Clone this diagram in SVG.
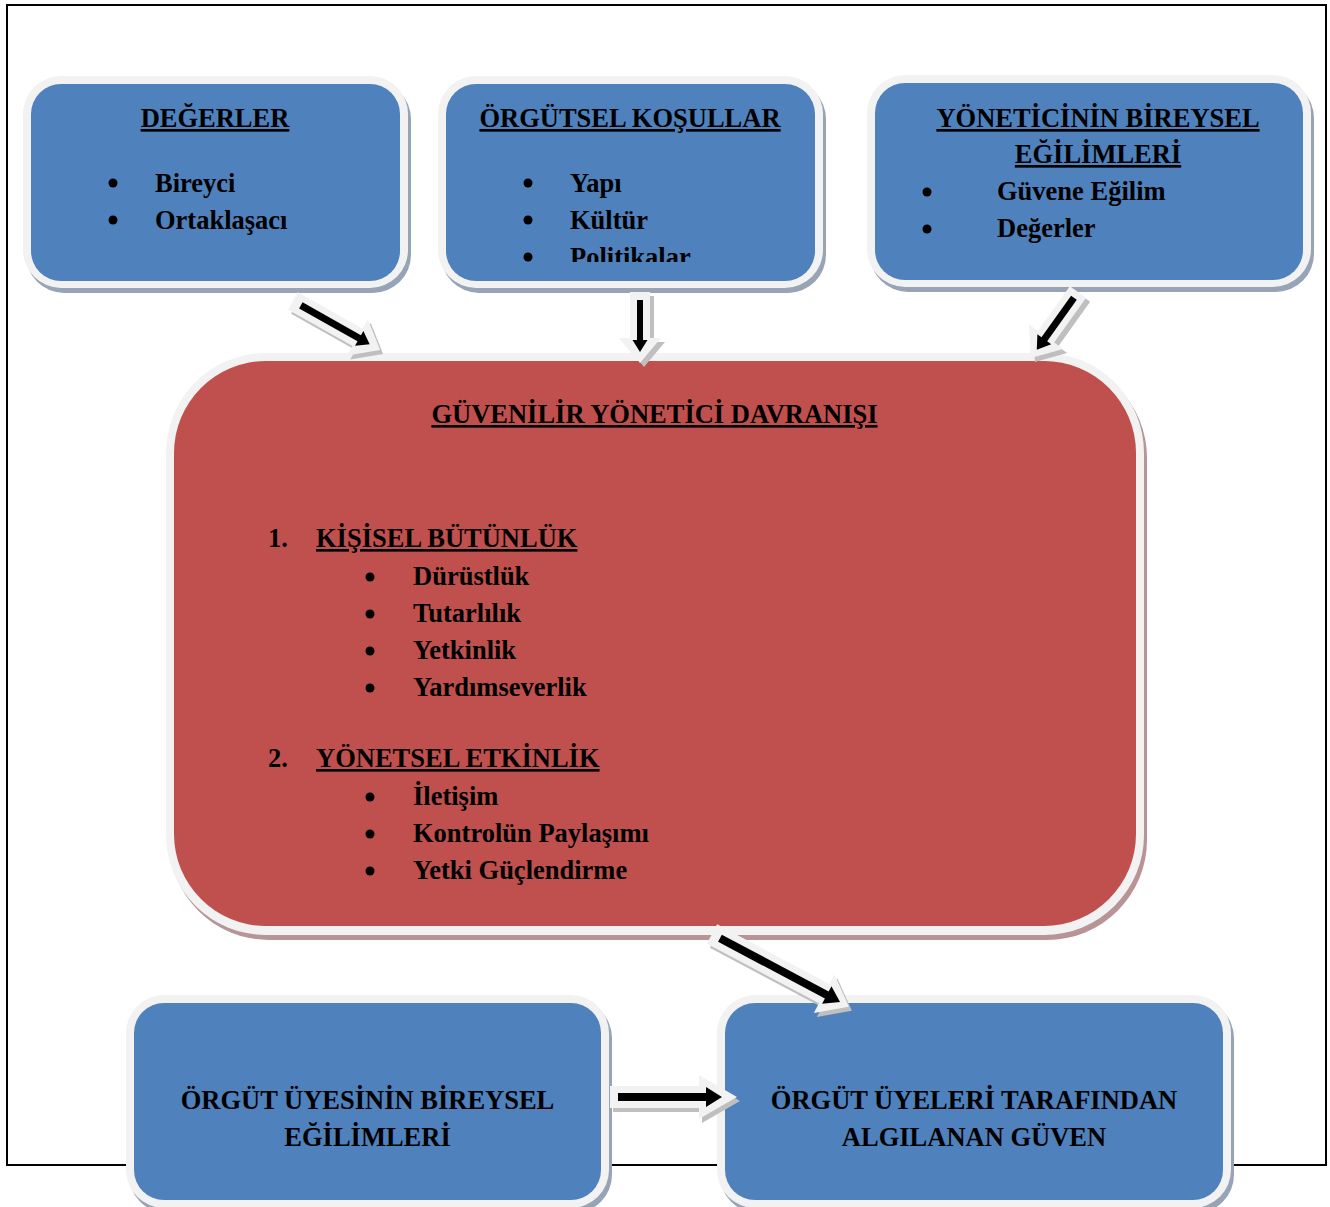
<svg xmlns="http://www.w3.org/2000/svg" width="1330" height="1207" viewBox="0 0 1330 1207">
<defs>
<style>
.frame{fill:none;stroke:#000;stroke-width:2}
.outer{fill:#f2f2f2}
.shb{fill:#97a4b6}
.shr{fill:#b89496}
.blue{fill:#4f81bd}
.red{fill:#c0504d}
.t{font-family:"Liberation Serif","Times New Roman",serif;font-weight:bold;font-size:26.5px;fill:#000}
.c{text-anchor:middle}
.u{text-decoration:underline}
.bw{fill:#f2f2f2}
.bs{fill:#bfbfbf}
.bk{fill:#000}
</style>
<clipPath id="clip2"><rect x="446" y="84" width="369" height="178"/></clipPath>
</defs>
<rect width="1330" height="1207" fill="#fff"/>
<rect class="frame" x="7" y="5" width="1319" height="1160"/>

<g id="node-degerler">
  <rect class="shb" x="26" y="81" width="385" height="212" rx="38"/>
  <rect class="outer" x="23" y="76" width="385" height="212" rx="38"/>
  <rect class="blue" x="31" y="84" width="369" height="197" rx="30"/>
  <text class="t c u" x="215" y="127">DEĞERLER</text>
  <circle cx="113" cy="183" r="4.5"/><text class="t" x="155" y="192">Bireyci</text>
  <circle cx="113" cy="220" r="4.5"/><text class="t" x="155" y="229">Ortaklaşacı</text>
</g>

<g id="node-orgutsel-kosullar">
  <rect class="shb" x="441" y="81" width="385" height="212" rx="38"/>
  <rect class="outer" x="438" y="76" width="385" height="212" rx="38"/>
  <rect class="blue" x="446" y="84" width="369" height="197" rx="30"/>
  <text class="t c u" x="630" y="127">ÖRGÜTSEL KOŞULLAR</text>
  <circle cx="528" cy="183" r="4.5"/><text class="t" x="570" y="192">Yapı</text>
  <circle cx="528" cy="220" r="4.5"/><text class="t" x="570" y="229">Kültür</text>
  <g clip-path="url(#clip2)"><circle cx="528" cy="257" r="4.5"/><text class="t" x="570" y="266">Politikalar</text></g>
</g>

<g id="node-yoneticinin-egilimleri">
  <rect class="shb" x="870" y="80" width="444" height="212" rx="38"/>
  <rect class="outer" x="867" y="75" width="444" height="212" rx="38"/>
  <rect class="blue" x="875" y="83" width="428" height="197" rx="30"/>
  <text class="t c u" x="1098" y="127">YÖNETİCİNİN BİREYSEL</text>
  <text class="t c u" x="1098" y="163">EĞİLİMLERİ</text>
  <circle cx="927" cy="192" r="4.5"/><text class="t" x="997" y="200">Güvene Eğilim</text>
  <circle cx="927" cy="229" r="4.5"/><text class="t" x="997" y="237">Değerler</text>
</g>

<g id="node-guvenilir-davranis">
  <rect class="shr" x="169" y="358" width="978" height="582" rx="100"/>
  <rect class="outer" x="166" y="353" width="978" height="582" rx="100"/>
  <rect class="red" x="174" y="361" width="962" height="565" rx="92"/>
  <text class="t c u" x="654.5" y="423">GÜVENİLİR YÖNETİCİ DAVRANIŞI</text>
  <text class="t" x="268" y="547">1.</text>
  <text class="t u" x="316" y="547">KİŞİSEL BÜTÜNLÜK</text>
  <circle cx="370" cy="577" r="4.5"/><text class="t" x="413" y="585">Dürüstlük</text>
  <circle cx="370" cy="614" r="4.5"/><text class="t" x="413" y="622">Tutarlılık</text>
  <circle cx="370" cy="651" r="4.5"/><text class="t" x="413" y="659">Yetkinlik</text>
  <circle cx="370" cy="688" r="4.5"/><text class="t" x="413" y="696">Yardımseverlik</text>
  <text class="t" x="268" y="767">2.</text>
  <text class="t u" x="316" y="767">YÖNETSEL ETKİNLİK</text>
  <circle cx="370" cy="797" r="4.5"/><text class="t" x="413" y="805">İletişim</text>
  <circle cx="370" cy="834" r="4.5"/><text class="t" x="413" y="842">Kontrolün Paylaşımı</text>
  <circle cx="370" cy="871" r="4.5"/><text class="t" x="413" y="879">Yetki Güçlendirme</text>
</g>

<g id="node-uye-egilimleri">
  <rect class="shb" x="129" y="1000" width="483" height="213" rx="38"/>
  <rect class="outer" x="126" y="995" width="483" height="213" rx="38"/>
  <rect class="blue" x="134" y="1003" width="467" height="197" rx="30"/>
  <text class="t c" x="367.5" y="1109">ÖRGÜT ÜYESİNİN BİREYSEL</text>
  <text class="t c" x="367.5" y="1146">EĞİLİMLERİ</text>
</g>

<g id="node-algilanan-guven">
  <rect class="shb" x="720" y="1000" width="514" height="213" rx="38"/>
  <rect class="outer" x="717" y="995" width="514" height="213" rx="38"/>
  <rect class="blue" x="725" y="1003" width="498" height="197" rx="30"/>
  <text class="t c" x="974" y="1109">ÖRGÜT ÜYELERİ TARAFINDAN</text>
  <text class="t c" x="974" y="1146">ALGILANAN GÜVEN</text>
</g>

<g id="connectors">
  <g transform="translate(296,305) rotate(29.4)"><polygon class="bs" points="0,-10 74,-10 74,-21 100,0 74,21 74,10 0,10"/></g>
  <g transform="translate(293,301) rotate(29.4)"><polygon class="bw" points="0,-10 74,-10 74,-21 100,0 74,21 74,10 0,10"/>
    <polygon class="bk" points="9,-3.5 76,-3.5 76,-8.5 88,0 76,8.5 76,3.5 9,3.5"/></g>
  <g transform="translate(644,296) rotate(90)"><polygon class="bs" points="0,-10 46,-10 46,-21 71,0 46,21 46,10 0,10"/></g>
  <g transform="translate(640,292) rotate(90)"><polygon class="bw" points="0,-10 46,-10 46,-21 71,0 46,21 46,10 0,10"/>
    <polygon class="bk" points="8,-3 48,-3 48,-7.5 60,0 48,7.5 48,3 8,3"/></g>
  <g transform="translate(1082,296) rotate(125.5)"><polygon class="bs" points="0,-10 55,-10 55,-21 81,0 55,21 55,10 0,10"/></g>
  <g transform="translate(1078,292) rotate(125.5)"><polygon class="bw" points="0,-10 55,-10 55,-21 81,0 55,21 55,10 0,10"/>
    <polygon class="bk" points="7,-3.5 58,-3.5 58,-8.5 71,0 58,8.5 58,3.5 7,3.5"/></g>
  <g transform="translate(715,938) rotate(28)"><polygon class="bs" points="0,-11 127,-11 127,-22 155,0 127,22 127,11 0,11"/></g>
  <g transform="translate(712,934) rotate(28)"><polygon class="bw" points="0,-11 127,-11 127,-22 155,0 127,22 127,11 0,11"/>
    <polygon class="bk" points="9,-4 130,-4 130,-10 145,0 130,10 130,4 9,4"/></g>
  <g transform="translate(613,1101)"><polygon class="bs" points="0,-11 89,-11 89,-22 127,0 89,22 89,11 0,11"/></g>
  <g transform="translate(610,1097)"><polygon class="bw" points="0,-11 89,-11 89,-22 127,0 89,22 89,11 0,11"/>
    <polygon class="bk" points="8,-4 96,-4 96,-10 112,0 96,10 96,4 8,4"/></g>
</g>
</svg>
